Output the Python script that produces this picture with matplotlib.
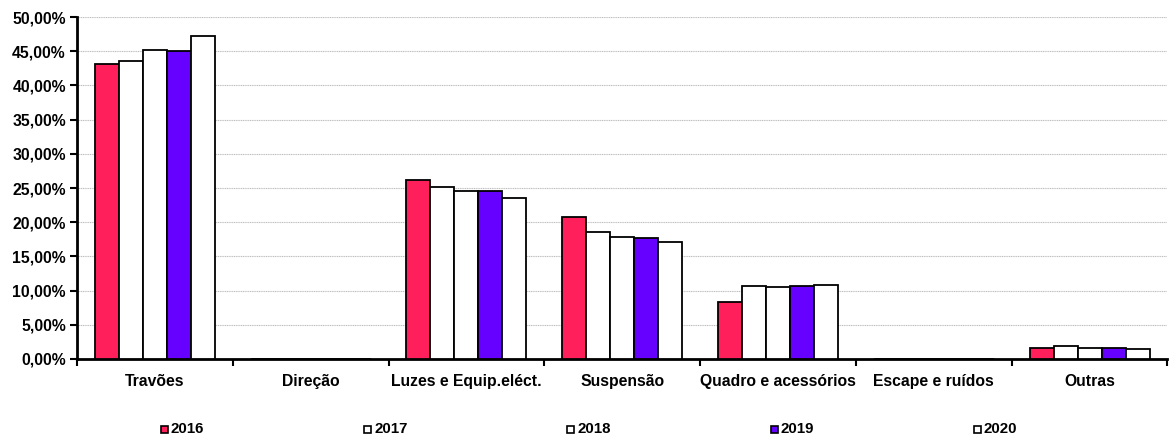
import numpy as np
import matplotlib.pyplot as plt
from matplotlib.patches import Rectangle
from matplotlib.ticker import FuncFormatter, MultipleLocator

plt.rcParams['font.family'] = ['Liberation Sans', 'DejaVu Sans']
plt.rcParams['font.weight'] = 'bold'

categories = ['Travões', 'Direção', 'Luzes e Equip.eléct.', 'Suspensão',
              'Quadro e acessórios', 'Escape e ruídos', 'Outras']
years = ['2016', '2017', '2018', '2019', '2020']
v2016 = [43.1, 0, 26.1, 20.7, 8.4, 0, 1.66]
v2017 = [43.6, 0, 25.2, 18.5, 10.7, 0, 1.9]
v2018 = [45.2, 0, 24.6, 17.9, 10.6, 0, 1.6]
v2019 = [45.1, 0, 24.6, 17.75, 10.7, 0, 1.55]
v2020 = [47.2, 0, 23.5, 17.05, 10.8, 0, 1.45]
series = [v2016, v2017, v2018, v2019, v2020]
colors = ['#FF1F5B', 'white', 'white', '#6600FF', 'white']

fig = plt.figure(figsize=(11.7, 4.37), dpi=100)
ax = fig.add_axes([0.0658, 0.1785, 0.932, 0.7825])

x = np.arange(len(categories))
bw = 0.154
for i, vals in enumerate(series):
    ax.bar(x + (i - 2) * bw, vals, width=bw, color=colors[i],
           edgecolor='black', linewidth=1.3, zorder=3)

ax.set_xlim(-0.5, len(categories) - 0.5)
ax.set_ylim(0, 50)
ax.yaxis.set_major_locator(MultipleLocator(5))
ax.yaxis.set_major_formatter(FuncFormatter(lambda v, p: f'{v:.2f}%'.replace('.', ',')))
ax.grid(axis='y', color='#bdbdbd', linestyle=(0, (1, 0.6)), linewidth=0.8, zorder=0)

ax.set_xticks(np.arange(len(categories) + 1) - 0.5)
ax.set_xticklabels([])
ax.set_xticks(x, minor=True)
ax.set_xticklabels(categories, minor=True, fontsize=11.3, fontweight='bold')
ax.tick_params(axis='x', which='minor', length=0, pad=11)
ax.tick_params(axis='x', which='major', length=5, width=1.5, direction='out')
ax.tick_params(axis='y', length=5, width=1.5, labelsize=11.3, pad=3)
for lab in ax.get_yticklabels():
    lab.set_fontweight('bold')

for s in ['top', 'right']:
    ax.spines[s].set_visible(False)
for s in ['left', 'bottom']:
    ax.spines[s].set_linewidth(2)

# legend row below the chart
for i, yr in enumerate(years):
    lx = 0.1376 + i * 0.1737
    fig.patches.append(Rectangle((lx, 0.0095), 0.006, 0.016, transform=fig.transFigure,
                                 facecolor=colors[i], edgecolor='black', linewidth=1.2))
    fig.text(lx + 0.0085, 0.0183, yr, fontsize=10.8, fontweight='bold', va='center', ha='left')

fig.savefig('out.png', dpi=100)
